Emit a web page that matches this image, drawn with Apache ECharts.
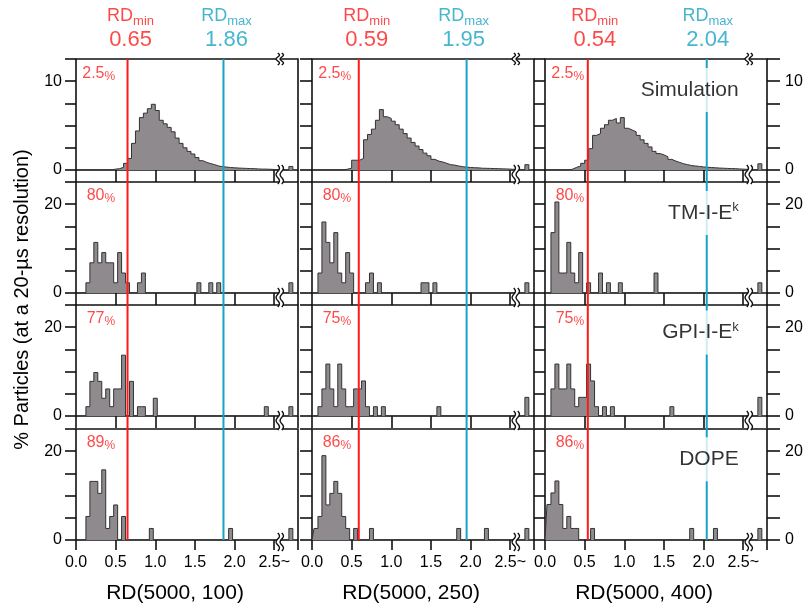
<!DOCTYPE html>
<html>
<head>
<meta charset="utf-8">
<script src="https://cdn.jsdelivr.net/npm/echarts@6/dist/echarts.min.js"></script>
<style>
  body { margin: 0; background: #fff; }
  #main { width: 805px; height: 606px; }
</style>
</head>
<body>
<div id="main"></div>
<script>
// ---- data (% particles per 0.05 RD bin) ----
// simulation: bins [0.05k, 0.05k+0.05], k = 0..49
var simCol1 = [0, 0, 0, 0, 0, 0, 0, 0, 0, 0.1,
    0.15, 0.3, 0.75, 1.3, 3.0, 4.4, 5.9, 6.4, 6.9, 7.4,
    6.7, 5.6, 5.2, 4.8, 4.3, 3.6, 3.0, 2.5, 2.1, 1.8,
    1.4, 1.05, 0.85, 0.72, 0.6, 0.45, 0.38, 0.33, 0.28, 0.25,
    0.22, 0.2, 0.18, 0.16, 0.15, 0.12, 0.1, 0.1, 0.08, 0.06];
var simCol2 = [0, 0, 0, 0, 0, 0, 0, 0, 0.1, 0.2,
    1.1, 1.1, 1.3, 3.4, 4.0, 4.6, 5.6, 6.8, 6.0, 5.8,
    5.5, 5.1, 4.6, 4.1, 3.6, 3.1, 2.7, 2.3, 1.9, 1.6,
    1.2, 1.0, 0.9, 0.75, 0.6, 0.55, 0.45, 0.38, 0.32, 0.28,
    0.26, 0.24, 0.2, 0.19, 0.18, 0.16, 0.15, 0.13, 0.12, 0.1];
var simCol3 = [0, 0, 0, 0, 0, 0, 0.1, 0.3, 0.45, 0.75,
    1.1, 2.4, 3.9, 4.1, 4.7, 5.1, 5.6, 5.8, 5.3, 5.9,
    4.7, 4.5, 4.3, 3.9, 3.4, 3.0, 2.6, 2.1, 1.85, 1.7,
    1.5, 1.2, 1.0, 0.85, 0.7, 0.6, 0.5, 0.45, 0.4, 0.35,
    0.3, 0.28, 0.25, 0.22, 0.2, 0.18, 0.16, 0.15, 0.12, 0.1];

// experiments: [bin centre, %]
var tmCol1 = [[0.15, 2.3], [0.20, 6.8], [0.25, 11.4], [0.30, 6.8], [0.35, 9.1], [0.40, 6.8], [0.45, 6.8],
    [0.50, 2.3], [0.55, 9.1], [0.60, 4.5], [0.65, 2.3], [0.80, 2.3], [0.85, 4.5], [1.55, 2.3], [1.70, 2.3], [1.80, 2.3]];
var tmCol2 = [[0.10, 4.5], [0.15, 16.0], [0.20, 11.4], [0.25, 6.8], [0.30, 13.6], [0.35, 4.5], [0.40, 2.3],
    [0.45, 9.1], [0.50, 4.5], [0.70, 2.3], [0.75, 4.5], [0.85, 2.3], [1.40, 2.3], [1.45, 2.3], [1.55, 2.3]];
var tmCol3 = [[0.10, 13.6], [0.15, 20.5], [0.20, 4.5], [0.25, 4.5], [0.30, 11.4], [0.35, 4.5], [0.40, 2.3],
    [0.45, 9.1], [0.55, 2.3], [0.70, 4.5], [0.80, 2.3], [0.95, 2.3], [1.40, 4.5]];
var gpiCol1 = [[0.15, 2.1], [0.20, 7.8], [0.25, 9.8], [0.30, 7.8], [0.35, 4.0], [0.40, 6.1], [0.45, 2.1],
    [0.50, 6.1], [0.55, 6.1], [0.60, 13.7], [0.70, 7.8], [0.80, 2.1], [0.85, 2.1], [1.00, 4.0], [2.40, 2.1]];
var gpiCol2 = [[0.10, 2.1], [0.15, 6.1], [0.20, 11.7], [0.25, 6.1], [0.30, 2.1], [0.35, 11.7], [0.40, 6.1],
    [0.45, 2.1], [0.50, 2.1], [0.55, 6.1], [0.60, 6.1], [0.65, 7.9], [0.70, 2.1], [0.80, 2.1], [0.90, 2.1], [1.60, 2.1]];
var gpiCol3 = [[0.10, 6.1], [0.15, 11.7], [0.20, 6.1], [0.25, 6.1], [0.30, 11.7], [0.35, 6.1], [0.40, 2.1],
    [0.45, 4.2], [0.50, 4.2], [0.55, 11.7], [0.60, 7.9], [0.65, 2.1], [0.75, 2.1], [0.85, 2.1], [1.60, 2.1]];
var dopeCol1 = [[0.15, 5.3], [0.20, 13.2], [0.25, 13.2], [0.30, 10.5], [0.35, 15.8], [0.40, 2.6], [0.45, 5.3],
    [0.50, 7.9], [0.60, 5.3], [0.95, 2.6], [1.95, 2.6]];
var dopeCol2 = [[0.05, 2.6], [0.10, 5.3], [0.15, 19.0], [0.20, 7.9], [0.25, 10.5], [0.30, 13.2], [0.35, 10.5],
    [0.40, 5.3], [0.45, 2.6], [0.55, 2.6], [0.75, 2.6], [1.85, 2.6], [2.20, 2.6]];
var dopeCol3 = [[0.05, 8.0], [0.10, 10.6], [0.15, 13.3], [0.20, 8.0], [0.25, 2.6], [0.30, 5.3], [0.35, 2.6],
    [0.40, 2.6], [0.60, 2.6], [1.85, 2.6], [2.15, 2.6]];

// "2.5~" overflow bin, per column
var simOverflow = [0.4, 0.6, 0.7];
var tmOverflow = [2.3, 2.3, 2.3];
var gpiOverflow = [2.1, 4.2, 4.2];
var dopeOverflow = [2.6, 2.6, 2.6];

var rdMin = [0.65, 0.59, 0.54];
var rdMax = [1.86, 1.95, 2.04];
var pctBelow = [['2.5', '2.5', '2.5'], ['80', '80', '80'], ['77', '75', '75'], ['89', '86', '86']];
var methodNames = [['Simulation', ''], ['TM-I-E', 'k'], ['GPI-I-E', 'k'], ['DOPE', '']];
var xTitles = ['RD(5000, 100)', 'RD(5000, 250)', 'RD(5000, 400)'];
var yTitle = '% Particles (at a 20-\u00b5s resolution)';
var rowMax = [12.5, 25, 25, 25];
var rowLabelTicks = [[0, 10], [0, 20], [0, 20], [0, 20]];

// ---- layout / style ----
var RED = '#ff1a1a', CYAN = '#18a2c4', INK = '#000', FRAME = '#111', FILL = '#8f8a8e', EDGE = '#333';
var FONT = 'Liberation Sans';
var colLeft = [76, 312, 545], rowTop = [59, 182, 305, 429];
var GRID_W = 222, GRID_H = 111;
var X_MAX = 2.8, BREAK_X = 2.57, OVF_X = 2.71, BIN = 0.05;
var minShift = [3, 8, 7], maxShift = [3, -3, 1];
var pctY = [10.9, 22, 22, 22];
var methodY = [9.0, 18, 18.8, 18.2];

var simData = [simCol1, simCol2, simCol3];
var expData = [[tmCol1, tmCol2, tmCol3], [gpiCol1, gpiCol2, gpiCol3], [dopeCol1, dopeCol2, dopeCol3]];
var overflow = [simOverflow, tmOverflow, gpiOverflow, dopeOverflow];

function binsFromDense(vals) {
    return vals.map(function (v, k) { return [k * BIN, (k + 1) * BIN, v]; });
}
function binsFromPairs(pairs) {
    var vals = [];
    for (var k = 0; k < 50; k++) vals.push(0);
    pairs.forEach(function (p) { vals[Math.round(p[0] / BIN)] = p[1]; });
    return vals.map(function (v, k) { return [Math.max(0, (k - 0.5) * BIN), (k + 0.5) * BIN, v]; });
}
function stepPoints(bins, ovf) {
    var pts = bins.map(function (b) { return [b[0], b[2]]; });
    pts.push([bins[bins.length - 1][1], 0]);
    pts.push([OVF_X - BIN / 2, ovf]);
    pts.push([OVF_X + BIN / 2, 0]);
    return pts;
}

// wavy axis-break mark
function squiggle(x, y0, y1) {
    var n = 18, left = [], right = [], amp = 1.7, gap = 2;
    for (var i = 0; i <= n; i++) {
        var t = i / n, y = y0 + t * (y1 - y0);
        var dx = amp * Math.sin(t * Math.PI * 3);
        left.push([x - gap + dx, y]);
        right.push([x + gap + dx, y]);
    }
    return {
        type: 'group',
        children: [
            { type: 'polygon', shape: { points: left.concat(right.slice().reverse()) }, style: { fill: '#fff' } },
            { type: 'polyline', shape: { points: left }, style: { stroke: FRAME, lineWidth: 1.4, fill: null } },
            { type: 'polyline', shape: { points: right }, style: { stroke: FRAME, lineWidth: 1.4, fill: null } }
        ]
    };
}

function xLabel(v) {
    if (Math.abs(v - 2.5) < 1e-6) return '2.5~';
    if (v > 2.5) return '';
    return v.toFixed(1);
}

var tickStyle = { color: FRAME, width: 1.6 };
var option = { animation: false, textStyle: { fontFamily: FONT }, grid: [], xAxis: [], yAxis: [], series: [] };

for (var r = 0; r < 4; r++) {
    for (var c = 0; c < 3; c++) {
        (function (r, c) {
            var gi = r * 3 + c;
            option.grid.push({
                left: colLeft[c], top: rowTop[r], width: GRID_W, height: GRID_H,
                show: true, borderColor: FRAME, borderWidth: 1.6, backgroundColor: 'transparent',
                outerBoundsMode: 'none'
            });
            option.xAxis.push({
                gridIndex: gi, type: 'value', min: 0, max: X_MAX, interval: 0.5,
                axisLine: { show: false }, splitLine: { show: false },
                axisTick: { show: true, length: r === 3 ? 10 : 12, lineStyle: tickStyle },
                axisLabel: { show: r === 3, formatter: xLabel, fontSize: 16, color: INK, margin: 15 },
                name: r === 3 ? xTitles[c] : '', nameLocation: 'middle', nameGap: 43,
                nameTextStyle: { fontSize: 21, color: INK, padding: [0, 24, 0, 0] }
            });
            var ticks = rowLabelTicks[r];
            option.yAxis.push({
                gridIndex: gi, type: 'value', min: 0, max: rowMax[r], interval: rowMax[r] / 5, position: 'left',
                axisLine: { show: false }, splitLine: { show: false },
                axisTick: { show: true, length: c === 1 ? 12 : 11, lineStyle: tickStyle },
                axisLabel: {
                    show: c === 0, margin: 14, fontSize: 16, color: INK,
                    formatter: function (v) { return ticks.indexOf(v) >= 0 ? String(v) : ''; }
                }
            });

            var bins = r === 0 ? binsFromDense(simData[c]) : binsFromPairs(expData[r - 1][c]);
            option.series.push({
                type: 'line', xAxisIndex: gi, yAxisIndex: gi, step: 'end', symbol: 'none', silent: true, z: 2,
                lineStyle: { color: EDGE, width: 1 },
                areaStyle: { color: FILL, opacity: 1 },
                data: stepPoints(bins, overflow[r][c])
            });

            var brk = [[BREAK_X, 0]];
            if (r === 0) brk.push([BREAK_X, rowMax[r]]);
            option.series.push({
                type: 'custom', xAxisIndex: gi, yAxisIndex: gi, z: 4, silent: true, data: brk,
                renderItem: function (params, api) {
                    var p = api.coord([api.value(0), api.value(1)]);
                    if (api.value(1) > 0) return squiggle(p[0], p[1] - 6, p[1] + 6);
                    if (r === 3) return squiggle(p[0], p[1] - 7, p[1] + 11);
                    return squiggle(p[0], p[1] - 5, p[1] + 14);
                }
            });

            var labels = [{
                value: [0.5, pctY[r]],
                label: {
                    show: true, position: 'left', distance: 0,
                    formatter: '{n|' + pctBelow[r][c] + '}{p|%}',
                    rich: {
                        n: { fontSize: 16, lineHeight: 18, color: RED },
                        p: { fontSize: 12, lineHeight: 14, color: RED, verticalAlign: 'bottom' }
                    }
                }
            }];
            if (c === 2) {
                var m = methodNames[r];
                labels.push({
                    value: [2.5, methodY[r]],
                    label: {
                        show: true, position: 'left', distance: 0,
                        backgroundColor: '#fff', padding: [10, 4, 10, 4],
                        formatter: '{m|' + m[0] + '}' + (m[1] ? '{k|' + m[1] + '}' : ''),
                        rich: {
                            m: { fontSize: 21, lineHeight: 24, color: INK },
                            k: { fontSize: 13, lineHeight: 14, color: INK, verticalAlign: 'top' }
                        }
                    }
                });
            }
            option.series.push({
                type: 'scatter', xAxisIndex: gi, yAxisIndex: gi, z: 7, silent: true,
                symbolSize: 1, itemStyle: { color: 'rgba(0,0,0,0)' }, data: labels
            });
        })(r, c);
    }
}

// right-hand y axes of the last column
for (var r2 = 0; r2 < 4; r2++) {
    (function (r) {
        var ticks = rowLabelTicks[r];
        option.yAxis.push({
            gridIndex: r * 3 + 2, type: 'value', min: 0, max: rowMax[r], interval: rowMax[r] / 5, position: 'right',
            axisLine: { show: false }, splitLine: { show: false },
            axisTick: { show: true, length: 13, lineStyle: tickStyle },
            axisLabel: {
                show: true, margin: 18, fontSize: 16, color: INK,
                formatter: function (v) { return ticks.indexOf(v) >= 0 ? String(v) : ''; }
            }
        });
    })(r2);
}

// full-height overlay per column: RDmin / RDmax lines and their headers
function header(txt, sub, val, color, shift) {
    return {
        show: true, position: 'top', distance: 7, offset: [shift, 0],
        formatter: '{n|' + txt + '}{s|' + sub + '}\n{v|' + val.toFixed(2) + '}',
        rich: {
            n: { fontSize: 18, lineHeight: 22, color: color },
            s: { fontSize: 13, lineHeight: 13, color: color, verticalAlign: 'bottom' },
            v: { fontSize: 22, lineHeight: 24, color: color }
        }
    };
}
for (var c2 = 0; c2 < 3; c2++) {
    var oi = 12 + c2;
    var yi = 16 + c2;
    option.grid.push({
        left: colLeft[c2], top: rowTop[0], width: GRID_W, height: rowTop[3] + GRID_H - rowTop[0],
        show: false, outerBoundsMode: 'none'
    });
    option.xAxis.push({ gridIndex: oi, type: 'value', min: 0, max: X_MAX, show: false });
    option.yAxis.push({
        gridIndex: oi, type: 'value', min: 0, max: 1, show: c2 === 0, position: 'left',
        axisLine: { show: false }, axisTick: { show: false }, axisLabel: { show: false }, splitLine: { show: false },
        name: c2 === 0 ? yTitle : '', nameLocation: 'middle', nameGap: 44,
        nameTextStyle: { fontSize: 20, color: INK }
    });
    option.series.push({
        type: 'line', xAxisIndex: oi, yAxisIndex: yi, symbol: 'none', silent: true, z: 5,
        lineStyle: { color: RED, width: 2 }, data: [[rdMin[c2], 0], [rdMin[c2], 1]]
    });
    option.series.push({
        type: 'line', xAxisIndex: oi, yAxisIndex: yi, symbol: 'none', silent: true, z: 5,
        lineStyle: { color: CYAN, width: 2 }, data: [[rdMax[c2], 0], [rdMax[c2], 1]]
    });
    option.series.push({
        type: 'scatter', xAxisIndex: oi, yAxisIndex: yi, symbolSize: 1, silent: true, z: 7,
        itemStyle: { color: 'rgba(0,0,0,0)' },
        data: [
            { value: [rdMin[c2], 1], label: header('RD', 'min', rdMin[c2], RED, minShift[c2]) },
            { value: [rdMax[c2], 1], label: header('RD', 'max', rdMax[c2], CYAN, maxShift[c2]) }
        ]
    });
}

var chart = echarts.init(document.getElementById('main'));
chart.setOption(option);
</script>
</body>
</html>
